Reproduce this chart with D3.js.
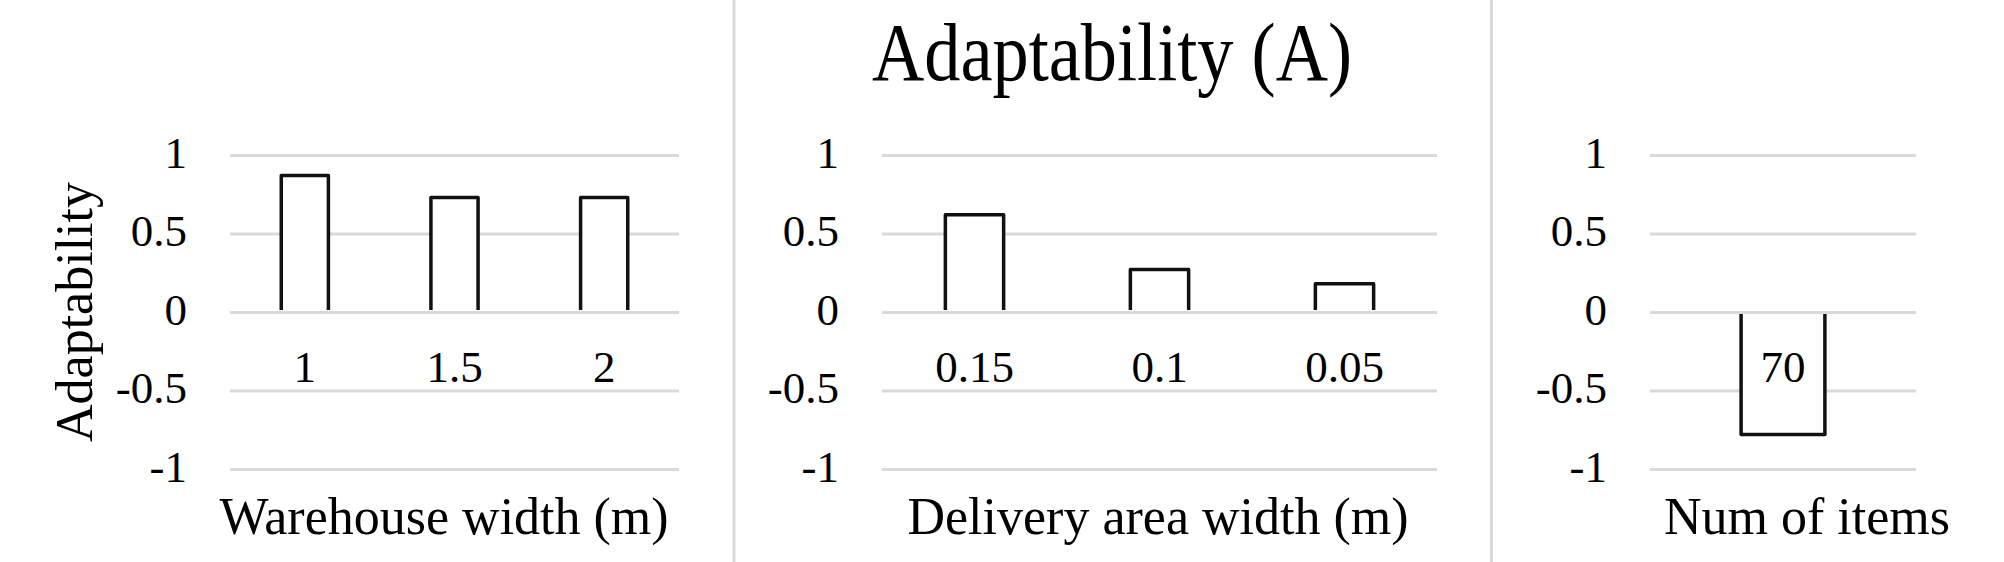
<!DOCTYPE html>
<html>
<head>
<meta charset="utf-8">
<script src="https://cdn.jsdelivr.net/npm/d3@7"></script>
<style>
  html, body { margin: 0; padding: 0; background: #fff; }
  svg { display: block; }
  text { font-family: "Liberation Serif", "Times New Roman", serif; fill: #000; }
</style>
</head>
<body>
<svg id="chart" width="2004" height="562"></svg>
<script>
// data
const chartTitle = "Adaptability (A)";
const yTitle = "Adaptability";
const yTicks = [-1, -0.5, 0, 0.5, 1];

const widthCats = ["1", "1.5", "2"];
const widthVals = [0.87, 0.73, 0.73];

const deliveryCats = ["0.15", "0.1", "0.05"];
const deliveryVals = [0.62, 0.27, 0.18];

const itemCats = ["70"];
const itemVals = [-0.78];

const panelTitles = ["Warehouse width (m)", "Delivery area width (m)", "Num of items"];

// layout
const width = 2004, height = 562;
const svg = d3.select("#chart");
const grid = "#d9d9d9";

const y = d3.scaleLinear().domain([-1, 1]).range([469, 155]);

const panels = [
  { cats: widthCats, vals: widthVals, title: panelTitles[0], x0: 230, x1: 679, tx: 444 },
  { cats: deliveryCats, vals: deliveryVals, title: panelTitles[1], x0: 882, x1: 1437, tx: 1158 },
  { cats: itemCats, vals: itemVals, title: panelTitles[2], x0: 1650, x1: 1916, tx: 1807 }
];

// separators between the three small charts
[734, 1491.5].forEach(sx => {
  svg.append("line")
    .attr("x1", sx).attr("x2", sx)
    .attr("y1", 0).attr("y2", height)
    .attr("stroke", grid).attr("stroke-width", 3);
});

panels.forEach(p => {
  const g = svg.append("g");

  // y axis with gridlines
  const ax = g.append("g")
    .attr("transform", `translate(${p.x0},0)`)
    .call(d3.axisLeft(y)
      .tickValues(yTicks)
      .tickSize(-(p.x1 - p.x0))
      .tickPadding(43)
      .tickFormat(d => String(d)));
  ax.select(".domain").remove();
  ax.selectAll(".tick line").attr("stroke", grid).attr("stroke-width", 3);
  ax.selectAll(".tick text")
    .attr("font-size", 45)
    .attr("dy", "0.27em")
    .attr("font-family", "Liberation Serif, Times New Roman, serif")
    .attr("fill", "#000");

  const x = d3.scaleBand().domain(p.cats).range([p.x0, p.x1]).padding(0);
  const bw = x.bandwidth() * 0.315;

  // open bars (no edge along the zero line)
  g.selectAll("path.bar")
    .data(p.cats.map((c, i) => ({ c, v: p.vals[i] })))
    .join("path")
    .attr("class", "bar")
    .attr("d", d => {
      const cx = x(d.c) + x.bandwidth() / 2;
      const l = cx - bw / 2, r = cx + bw / 2;
      const y0 = y(0) + (d.v < 0 ? 2 : -2), y1 = y(d.v);
      return `M${l},${y0}V${y1}H${r}V${y0}`;
    })
    .attr("fill", "#fff")
    .attr("stroke", "#111")
    .attr("stroke-width", 3.5)
    .attr("stroke-linejoin", "round");

  // category labels
  g.selectAll("text.cat")
    .data(p.cats)
    .join("text")
    .attr("class", "cat")
    .attr("x", d => x(d) + x.bandwidth() / 2)
    .attr("y", 382)
    .attr("text-anchor", "middle")
    .attr("font-size", 45)
    .text(d => d);

  // axis title
  g.append("text")
    .attr("x", p.tx)
    .attr("y", 534)
    .attr("text-anchor", "middle")
    .attr("font-size", 52)
    .text(p.title);
});

// vertical axis title
svg.append("text")
  .attr("transform", "translate(92,312) rotate(-90)")
  .attr("text-anchor", "middle")
  .attr("font-size", 52)
  .text(yTitle);

// chart title
svg.append("text")
  .attr("x", 1112)
  .attr("y", 80)
  .attr("text-anchor", "middle")
  .attr("font-size", 82)
  .attr("textLength", 480)
  .attr("lengthAdjust", "spacingAndGlyphs")
  .text(chartTitle);
</script>
</body>
</html>
